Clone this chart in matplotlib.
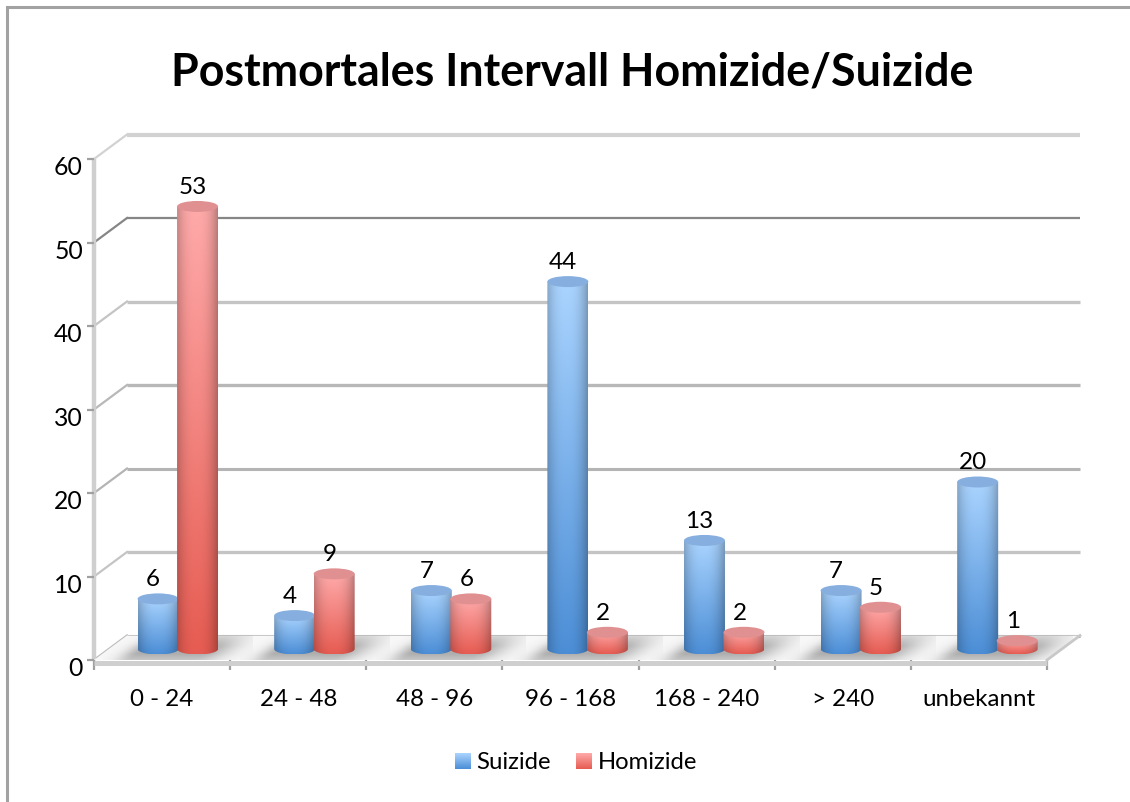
import numpy as np
import matplotlib
matplotlib.use("Agg")
import matplotlib.pyplot as plt
from matplotlib.lines import Line2D
from matplotlib.path import Path
from matplotlib.patches import Ellipse, Polygon
from matplotlib.transforms import ScaledTranslation

categories = ["0 - 24", "24 - 48", "48 - 96", "96 - 168", "168 - 240", "> 240", "unbekannt"]
suizide = [6, 4, 7, 44, 13, 7, 20]
homizide = [53, 9, 6, 2, 2, 5, 1]
y_ticks = [0, 10, 20, 30, 40, 50, 60]
title = "Postmortales Intervall Homizide/Suizide"

W, H = 1130, 803
plt.rcParams["font.family"] = ["Lato", "DejaVu Sans"]
fig = plt.figure(figsize=(W / 100, H / 100), dpi=100, facecolor="white")

# Front plot box in pixels
L, R, B, T = 94, 1047, 661, 160
ax = fig.add_axes([L / W, 1 - B / H, (R - L) / W, (B - T) / H])
ax.set_xlim(-0.5, 6.5)
ax.set_ylim(0, 60)
ax.patch.set_alpha(0)
for s in ax.spines.values():
    s.set_visible(False)

px_x = 7 / (R - L)
px_y = 60 / (B - T)
dx, dy = 33 * px_x, 24.5 * px_y          # depth of the 3-D box
spacing = 136.6 * px_x                    # group spacing of the cylinders
half_w = 20.5 * px_x
gap = 20 * px_x
ell = 5.5 * px_y
base_y = 11 * px_y
base_x = 16 * px_x

x0, x1 = -0.5, 6.5
# Outer frame: only the top and left edges are visible
fig.add_artist(Line2D([6.5 / W, 6.5 / W, 1], [0, 1 - 8 / H, 1 - 8 / H], transform=fig.transFigure,
                      color="#a2a2a2", lw=2.2, solid_joinstyle="miter"))

# Walls and grid
grid_styles = [("#9a9a9a", 2.2), ("#c4c4c4", 2.4), ("#b4b4b4", 2.2), ("#b8b8b8", 2.4),
               ("#c4c4c4", 2.4), ("#868686", 1.6), ("#d2d2d2", 3.0)]
for v, (c, lw) in zip(y_ticks, grid_styles):
    ax.plot([x0 + dx, x1 + dx], [v + dy, v + dy], color=c, lw=lw, clip_on=False, zorder=1,
            solid_capstyle="butt")
    ax.plot([x0, x0 + dx], [v, v + dy], color=c if v else "#bcbcbc", lw=1.6, clip_on=False, zorder=1)
ax.plot([x0, x0], [0, 60], color="#cfcfcf", lw=3.2, clip_on=False, zorder=1.5, solid_capstyle="butt")

# Floor
floor_xy = [(x0, 0), (x1, 0), (x1 + dx, dy), (x0 + dx, dy)]
floor = Polygon(floor_xy, closed=True, fc="#f7f7f7", ec="none", zorder=2, clip_on=False)
ax.add_patch(floor)
ax.plot([x0, x1], [-0.3, -0.3], color="#cfcfcf", lw=3.6, clip_on=False, zorder=2.6, solid_capstyle="butt")
ax.plot([x1, x1 + dx], [0, dy], color="#c8c8c8", lw=2.0, clip_on=False, zorder=2.6)
floor_path = Path(floor_xy + [floor_xy[0]])

# Shadows on the floor
ny, nx = 40, 300
for i in range(7):
    c = i * spacing + base_x
    gx = np.linspace(-0.55, 0.55, nx)
    gy = np.linspace(0, 1, ny)
    X, Y = np.meshgrid(gx, gy)
    shear = X - 0.24 * (Y - 0.5)
    d_left = np.clip(-0.22 - shear, 0, None)
    d_right = np.clip(shear - 0.22, 0, None)
    a = np.exp(-(d_left / 0.12) ** 2) * np.exp(-(d_right / 0.20) ** 2) * 0.55
    a *= np.clip(1.2 - np.abs(Y - 0.4) * 1.3, 0, 1)
    rgba = np.zeros((ny, nx, 4))
    rgba[..., :3] = 0.45
    rgba[..., 3] = a
    im = ax.imshow(rgba, extent=(c - 0.55, c + 0.55, 0, dy), origin="lower", aspect="auto", zorder=2.4,
                   interpolation="bilinear")
    im.set_clip_path(floor_path, transform=ax.transData)
    im.set_clip_box(fig.bbox)


def lerp(a, b, t):
    return np.array(a)[None, None, :] * (1 - t)[..., None] + np.array(b)[None, None, :] * t[..., None]


def cylinder(cx, value, top, bottom, cap, z):
    xa, xb = cx - half_w, cx + half_w
    y0, y1 = base_y, base_y + value
    th = np.linspace(np.pi, 2 * np.pi, 40)
    lower = np.c_[cx + half_w * np.cos(th), y0 + ell * np.sin(th)]
    verts = np.vstack([[(xa, y1)], lower, [(xb, y1)], [(xa, y1)]])
    clip = Path(verts)
    U = np.linspace(-1, 1, 60)
    V = np.linspace(0, 1, 80)
    UU, VV = np.meshgrid(U, V)
    col = lerp(bottom, top, VV) / 255
    shade = 1 - 0.24 * np.abs(UU + 0.05) ** 2.5
    im = ax.imshow(np.clip(col * shade[..., None], 0, 1),
                   extent=(xa, xb, y0 - ell, y1), origin="lower", aspect="auto",
                   zorder=z, interpolation="bilinear")
    im.set_clip_path(clip, transform=ax.transData)
    im.set_clip_box(fig.bbox)
    ax.add_patch(Ellipse((cx, y1), 2 * half_w, 2 * ell, fc=cap, ec="none", zorder=z + 0.01, clip_on=False))


for i, (s, h) in enumerate(zip(suizide, homizide)):
    c = i * spacing + base_x
    cylinder(c - gap, s, (170, 212, 255), (76, 142, 214), "#86aedf", 3 + i * 0.01)
    cylinder(c + gap - 0.5 * px_x, h, (255, 170, 170), (230, 92, 82), "#e09090", 4 + i * 0.01)
    for cx, v in ((c - gap, s), (c + gap, h)):
        ax.annotate(str(v), (cx, base_y + v), xytext=(-3.6, 14.5), textcoords="offset points",
                    ha="center", va="center", fontsize=17.5, color="black", zorder=6,
                    annotation_clip=False)

# Axes ticks and labels
ax.set_yticks(y_ticks)
ax.set_xticks(range(7))
ax.set_xticklabels(categories)
ax.set_xticks(np.arange(-0.5, 7), minor=True)
ax.tick_params(axis="x", which="major", length=0, pad=20, labelsize=17.4)
ax.tick_params(axis="x", which="minor", length=7, width=1.6, color="#a0a0a0")
ax.tick_params(axis="y", which="major", length=5, width=1.6, color="#a0a0a0", labelsize=17.8, pad=3)
shift = ScaledTranslation(0, -6 / 100, fig.dpi_scale_trans)
for lab in ax.get_yticklabels():
    lab.set_transform(lab.get_transform() + shift)

ax.set_xlim(-0.5, 6.5)
ax.set_ylim(0, 60)

fig.text(572.5 / W, 1 - 72 / H, title, ha="center", va="center", fontsize=32.2, fontweight="bold",
         color="black")


# Legend
def swatch(xp, top, bottom):
    axl = fig.add_axes([xp / W, 1 - 770 / H, 16 / W, 16 / H])
    t = np.linspace(0, 1, 32)[:, None]
    axl.imshow(lerp(bottom, top, t) / 255, origin="lower", aspect="auto", interpolation="bilinear")
    axl.axis("off")


swatch(455, (170, 212, 255), (76, 142, 214))
swatch(576, (255, 170, 170), (230, 92, 82))
fig.text(476 / W, 1 - 763 / H, "Suizide", ha="left", va="center", fontsize=17.2)
fig.text(598 / W, 1 - 763 / H, "Homizide", ha="left", va="center", fontsize=17.2)

fig.savefig("out.png", dpi=100, facecolor="white")
